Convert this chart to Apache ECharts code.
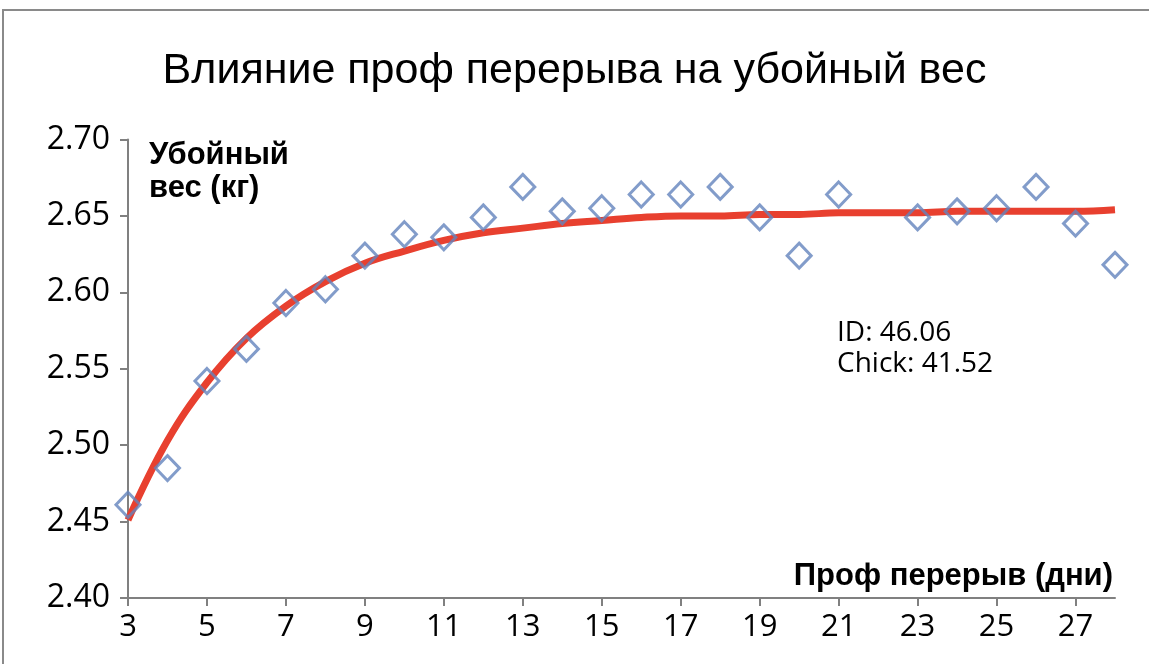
<!DOCTYPE html>
<html>
<head>
<meta charset="utf-8">
<script src="https://cdn.jsdelivr.net/npm/echarts@6/dist/echarts.min.js"></script>
<style>
html,body{margin:0;padding:0;background:#fff;}
#c{width:1149px;height:664px;}
</style>
</head>
<body>
<div id="c"></div>
<script>
// Days (x categories)
const days = [3,4,5,6,7,8,9,10,11,12,13,14,15,16,17,18,19,20,21,22,23,24,25,26,27,28];
// Observed slaughter weight (kg); '-' = no observation
const observed = [2.461,2.485,2.542,2.563,2.593,2.602,2.624,2.638,2.636,2.649,2.669,2.653,2.655,2.664,2.664,2.669,2.649,2.624,2.664,'-',2.649,2.653,2.655,2.669,2.645,2.618];
// Fitted trend curve
const trend = [2.451,2.503,2.541,2.570,2.591,2.607,2.619,2.627,2.634,2.639,2.642,2.645,2.647,2.649,2.650,2.650,2.651,2.651,2.652,2.652,2.652,2.653,2.653,2.653,2.653,2.654];
const yTicks = {min: 2.40, max: 2.70, step: 0.05};
const titleText = 'Влияние проф перерыва на убойный вес';
const yName = ['Убойный', 'вес (кг)'];
const xName = 'Проф перерыв (дни)';
const note = ['ID: 46.06', 'Chick: 41.52'];

const chart = echarts.init(document.getElementById('c'));
const humanist = '"Open Sans", "Noto Sans", sans-serif';
const helv = '"Liberation Sans", Arial, sans-serif';
chart.setOption({
  animation: false,
  backgroundColor: '#fff',
  title: {
    text: titleText, left: 'center', top: 45,
    textStyle: {fontFamily: helv, fontSize: 43, fontWeight: 'normal', color: '#000'}
  },
  grid: {left: 128, right: 34, top: 139.5, bottom: 66, containLabel: false},
  xAxis: {
    type: 'category', data: days, boundaryGap: false,
    axisLine: {lineStyle: {color: '#808080', width: 2}},
    axisTick: {show: true, interval: 1, length: 8, lineStyle: {color: '#808080', width: 2}},
    axisLabel: {interval: 1, margin: 14, color: '#000', fontFamily: humanist, fontSize: 31},
    splitLine: {show: false}
  },
  yAxis: {
    type: 'value', min: yTicks.min, max: yTicks.max, interval: yTicks.step,
    axisLine: {show: true, lineStyle: {color: '#808080', width: 2}},
    axisTick: {show: true, length: 8, lineStyle: {color: '#808080', width: 2}},
    axisLabel: {margin: 18, color: '#000', fontFamily: humanist, fontSize: 32,
      formatter: v => v.toFixed(2)},
    splitLine: {show: false}
  },
  graphic: [
    {type: 'rect', shape: {x: 3, y: 10, width: 1160, height: 700},
     style: {fill: 'none', stroke: '#8a8a8a', lineWidth: 2}, silent: true, z: -1},
    {type: 'text', left: 149, top: 139,
     style: {text: yName.join('\n'), font: 'bold 31px "Liberation Sans", Arial, sans-serif', fill: '#000', lineHeight: 33}},
    {type: 'text', right: 36, top: 561,
     style: {text: xName, font: 'bold 31px "Liberation Sans", Arial, sans-serif', fill: '#000'}},
    {type: 'text', left: 837, top: 318,
     style: {text: note.join('\n'), font: '28px "Open Sans", sans-serif', fill: '#000', lineHeight: 31}}
  ],
  series: [
    {
      type: 'line', data: trend, smooth: 0.4, symbol: 'none',
      lineStyle: {color: '#e8402f', width: 7}, z: 2
    },
    {
      type: 'scatter', data: observed, symbol: 'diamond', symbolSize: [24, 25],
      itemStyle: {color: 'rgba(255,255,255,0)', borderColor: '#6383bd', borderWidth: 3}, z: 3
    }
  ]
});
</script>
</body>
</html>
